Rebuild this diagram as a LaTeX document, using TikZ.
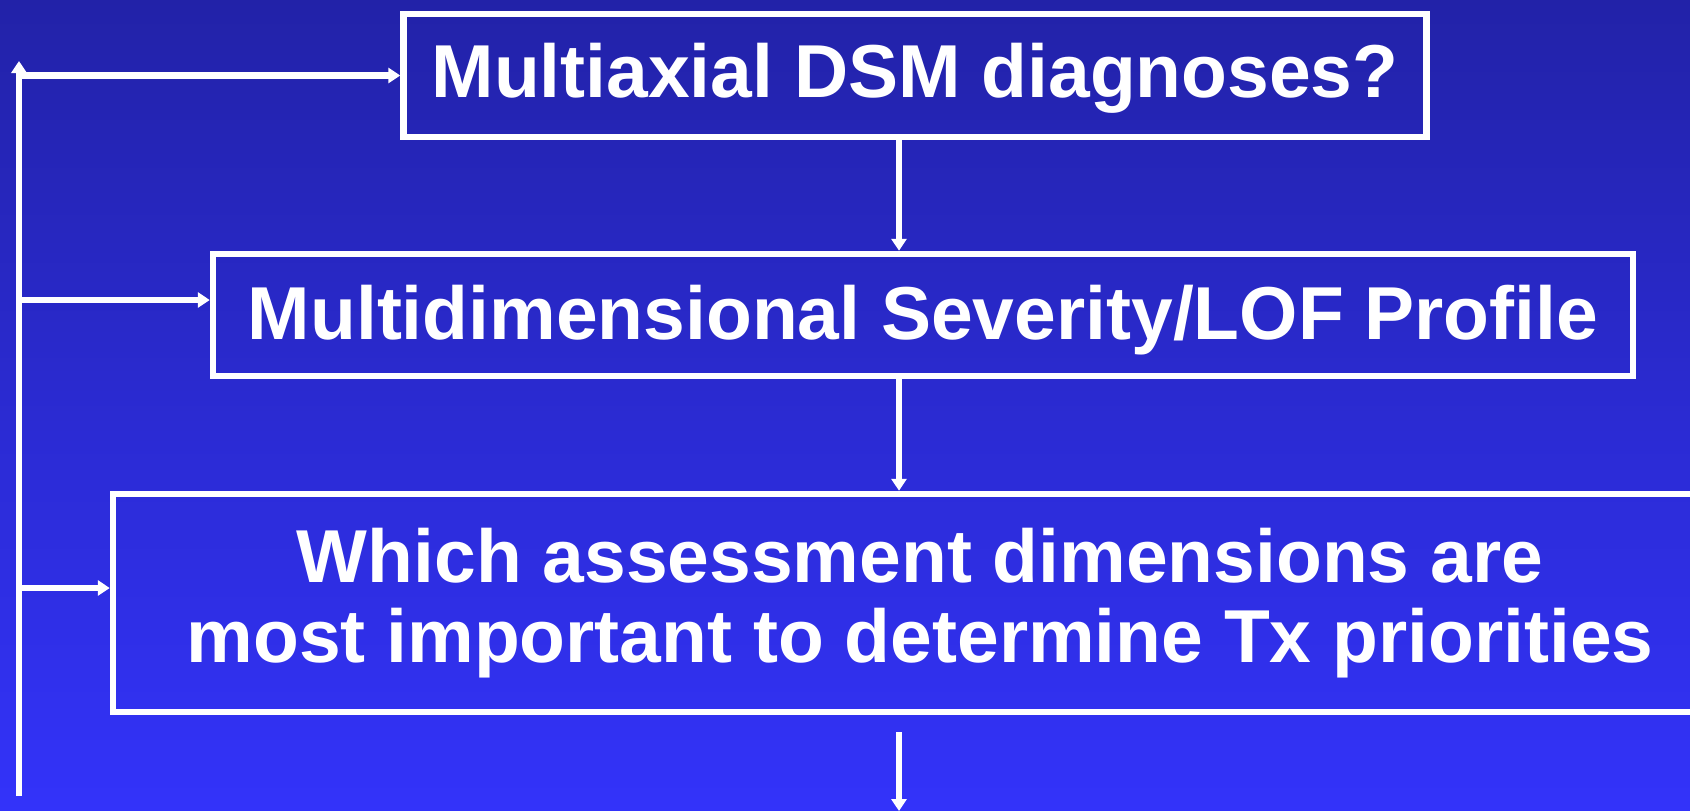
\documentclass[tikz,border=0pt]{standalone}
\usepackage{fontspec}
\setmainfont{Liberation Sans}
\usetikzlibrary{arrows.meta}

\definecolor{bgtop}{RGB}{34,34,168}
\definecolor{bgbot}{RGB}{51,51,250}

\tikzset{
    box/.style={draw=white, line width=6.5pt, text=white, inner sep=0pt,
        align=center, font=\bfseries\fontsize{75}{80}\selectfont},
    arr/.style={draw=white, line width=6.5pt, -{Triangle[length=12pt,width=15pt]}}
}

\begin{document}
\begin{tikzpicture}[x=1pt,y=-1pt]
    % Background
    \shade[top color=bgtop, bottom color=bgbot] (0,0) rectangle (1690,811);
    \useasboundingbox (0,0) rectangle (1690,811);
    \clip (0,0) rectangle (1690,811);

    % Boxes
    \node[box, minimum width=1023pt, minimum height=123pt, text height=54pt, text depth=11pt]
        (diag) at (915,75.5) {Multiaxial DSM diagnoses?};
    \node[box, minimum width=1420pt, minimum height=122pt, text height=54pt, text depth=6pt]
        (prof) at (923,315) {Multidimensional Severity/LOF Profile};
    \node[box, minimum width=1614pt, minimum height=218pt]
        (dims) at (920,603) {Which assessment dimensions are\\most important to determine Tx priorities};

    % Helper points
    \coordinate (spinetop) at (19,61);
    \coordinate (spinebot) at (19,796);
    \coordinate (mid) at (899,0);
    \coordinate (outstart) at (899,732);
    \coordinate (outend) at (899,811);

    % Feedback line on the left
    \draw[arr] (spinebot) -- (spinetop);
    \foreach \n/\s in {diag/0, prof/15, dims/15} {
        \draw[arr] ([yshift=\s pt]\n.west -| spinetop) -- ([yshift=\s pt]\n.west);
    }

    % Down arrows
    \draw[arr] (diag.south -| mid) -- (prof.north -| mid);
    \draw[arr] (prof.south -| mid) -- (dims.north -| mid);
    \draw[arr] (outstart) -- (outend);
\end{tikzpicture}
\end{document}
